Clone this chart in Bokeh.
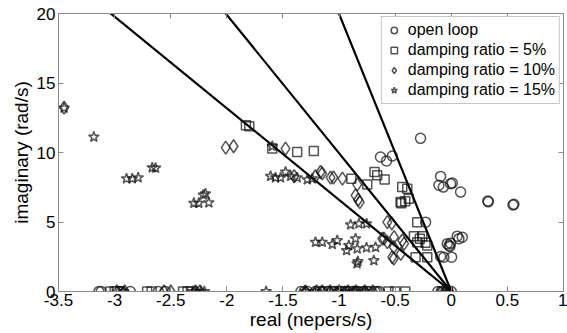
from bokeh.plotting import figure
from bokeh.models import FixedTicker, LinearAxis, Legend, LegendItem, Range1d
from bokeh.embed import file_html
from bokeh.resources import INLINE

# ---------------- data ----------------
ol_re = [-0.274, -0.631, -0.577, -0.526, -0.095, -0.071, -0.006, 0.009, 0.083, 0.326, 0.558,
         -0.229, 0.098, 0.068, 0.053, -0.006, -0.036, -0.020, -0.012, -0.066, -0.095, 0.003, -0.110,
         0.330, 0.550,
         -3.14, -3.12, -2.96, -2.94, -2.86, -2.61, -2.55, -1.34, -1.31, -1.28, -1.21, -1.17, -1.15,
         -1.10, -1.06, -1.04, -0.98, -0.95, -0.93, -0.88, -0.85, -0.83, -0.78, -0.75, -0.73,
         -0.68, -0.66, -0.64, -0.12, -0.09, -0.07, -0.03, 0.0]
ol_im = [11.02, 9.68, 9.39, 9.75, 8.28, 7.51, 7.75, 7.80, 7.15, 6.51, 6.27,
         4.99, 3.91, 3.80, 3.98, 3.48, 3.44, 3.31, 3.24, 2.47, 2.52, 2.47, 7.64,
         6.45, 6.22,
         0, 0, 0, 0, 0, 0, 0, 0, 0, 0, 0, 0, 0,
         0, 0, 0, 0, 0, 0, 0, 0, 0, 0, 0, 0,
         0, 0, 0, 0, 0, 0, 0, 0]

sq_re = [-1.83, -1.80, -1.595, -1.373, -1.225, -0.891, -0.749, -0.684, -0.660, -0.594,
         -0.437, -0.392, -0.452, -0.378, -0.410, -0.303, -0.333, -0.258, -0.303, -0.214,
         -0.230, -0.318, -0.214, -0.280, -0.445,
         -3.04, -3.00, -2.98, -2.71, -2.67, -2.39, -2.35, -2.32, -1.12, -1.00, -0.90,
         -0.80, -0.56, -0.50, -0.41, -0.08, -0.03]
sq_im = [11.96, 11.89, 10.28, 10.04, 10.11, 8.12, 7.69, 8.60, 8.36, 8.05,
         7.52, 7.40, 6.43, 6.68, 6.50, 4.99, 3.98, 3.98, 3.55, 3.31,
         3.50, 2.47, 2.47, 3.80, 6.35,
         0, 0, 0, 0, 0, 0, 0, 0, 0, 0, 0,
         0, 0, 0, 0, 0, 0]

di_re = [-3.45, -2.01, -1.94, -1.477, -1.165, -1.15, -1.21, -1.076, -1.05, -0.97, -1.40,
         -0.838, -0.853, -0.815, -0.830, -0.570, -0.530, -0.615, -0.570, -0.512, -0.512,
         -0.510, -0.420, -0.450, -0.437, -0.600, -0.526,
         -2.98, -2.91, -2.56, -2.50, -2.28, -2.24, -1.30, -1.20, -1.15, -1.08, -1.00,
         -0.92, -0.85, -0.77, -0.70, -0.06, -0.02]
di_im = [13.23, 10.35, 10.45, 10.28, 8.60, 8.50, 8.29, 8.19, 8.20, 8.12, 8.29,
         7.69, 6.92, 6.43, 6.60, 4.99, 4.90, 3.80, 3.55, 3.19, 2.36,
         3.91, 3.44, 2.71, 3.67, 3.80, 2.47,
         0, 0, 0, 0, 0, 0, 0, 0, 0, 0, 0,
         0, 0, 0, 0, 0, 0]

st_re = [-3.45, -3.185, -2.894, -2.843, -2.79, -2.665, -2.635, -2.294, -2.25, -2.16, -2.19,
         -2.21, -1.595, -1.61, -1.566, -1.521, -1.477, -1.432, -1.373, -1.283, -1.239,
         -0.897, -0.823, -0.755, -1.21, -1.15, -1.06, -1.016, -0.853, -0.913, -0.933,
         -0.838, -0.755, -0.675, -0.69, -0.832, -0.84,
         -2.92, -2.30, -2.27, -2.23, -2.20, -1.65, -1.30, -1.22, -1.02, -0.95, -0.87,
         -0.78, -0.04]
st_im = [13.20, 11.12, 8.12, 8.12, 8.19, 8.91, 8.88, 6.36, 6.36, 6.39, 7.04,
         6.95, 10.45, 8.29, 8.19, 8.19, 8.60, 8.29, 8.19, 8.05, 8.12,
         4.80, 4.88, 4.88, 3.55, 3.55, 3.39, 3.67, 3.80, 3.31, 2.95,
         3.08, 3.15, 3.19, 2.23, 2.16, 2.00,
         0, 0, 0, 0, 0, 0, 0, 0, 0, 0, 0,
         0, 0]

zetas = [0.05, 0.10, 0.15]
line_top = 25.0

x_ticks = [-3.5, -3, -2.5, -2, -1.5, -1, -0.5, 0, 0.5, 1]
x_tick_labels = ["-3.5", "-3", "-2.5", "-2", "-1.5", "-1", "-0.5", "0", "0.5", "1"]
y_ticks = [0, 5, 10, 15, 20]
y_tick_labels = ["0", "5", "10", "15", "20"]

labels = ["open loop", "damping ratio = 5%", "damping ratio = 10%", "damping ratio = 15%"]

# ---------------- figure ----------------
FONT = "Liberation Sans"
AXC = "#8a8a8a"

p = figure(width=567, height=333, output_backend="svg", toolbar_location=None,
           x_range=Range1d(-3.5, 1), y_range=Range1d(0, 20),
           min_border_left=58, min_border_right=4, min_border_top=13, min_border_bottom=42)
p.background_fill_color = "white"
p.border_fill_color = "white"
p.outline_line_color = AXC
p.xgrid.visible = False
p.ygrid.visible = False

for z in zetas:
    slope = z / (1 - z * z) ** 0.5
    p.line([0, -slope * line_top], [0, line_top], line_color="black", line_width=2.2)

mk = dict(fill_color=None, line_color="#111111", line_alpha=0.72, line_width=1.5)
r_ol = p.scatter(ol_re, ol_im, marker="circle", size=10, **mk)
r_sq = p.scatter(sq_re, sq_im, marker="square", size=9, **mk)
r_di = p.scatter(di_re, di_im, marker="diamond", size=13, **mk)
r_st = p.scatter(st_re, st_im, marker="star", size=11, **mk)

def style_axis(ax, show_labels):
    ax.axis_line_color = AXC
    ax.major_tick_line_color = AXC
    ax.minor_tick_line_color = None
    ax.major_tick_in = 5
    ax.major_tick_out = 0
    ax.major_label_text_font = FONT
    ax.major_label_text_font_size = "17px"
    ax.major_label_text_color = "black"
    ax.axis_label_text_font = FONT
    ax.axis_label_text_font_size = "19px"
    ax.axis_label_text_font_style = "normal"
    ax.axis_label_text_color = "black"
    if not show_labels:
        ax.major_label_text_font_size = "0px"
        ax.major_label_text_alpha = 0

xa = p.xaxis[0]
xa.ticker = FixedTicker(ticks=x_ticks)
xa.major_label_overrides = {t: l for t, l in zip(x_ticks, x_tick_labels)}
xa.axis_label = "real (nepers/s)"
xa.axis_label_standoff = 0
xa.major_label_standoff = 2
style_axis(xa, True)

ya = p.yaxis[0]
ya.ticker = FixedTicker(ticks=y_ticks)
ya.major_label_overrides = {t: l for t, l in zip(y_ticks, y_tick_labels)}
ya.axis_label = "imaginary (rad/s)"
ya.axis_label_standoff = 2
ya.major_label_standoff = 3
style_axis(ya, True)

top = LinearAxis(ticker=FixedTicker(ticks=x_ticks))
style_axis(top, False)
top.major_label_standoff = 0
p.add_layout(top, "above")
right = LinearAxis(ticker=FixedTicker(ticks=y_ticks))
style_axis(right, False)
right.major_label_standoff = 0
p.add_layout(right, "right")

legend = Legend(items=[LegendItem(label=labels[0], renderers=[r_ol]),
                       LegendItem(label=labels[1], renderers=[r_sq]),
                       LegendItem(label=labels[2], renderers=[r_di]),
                       LegendItem(label=labels[3], renderers=[r_st])],
                location="top_right")
legend.label_text_font = FONT
legend.label_text_font_size = "16px"
legend.label_text_color = "black"
legend.label_height = 18
legend.label_standoff = 6
legend.glyph_width = 16
legend.glyph_height = 18
legend.spacing = 2
legend.padding = 4
legend.margin = 3
legend.border_line_color = AXC
legend.border_line_width = 1
legend.background_fill_color = "white"
legend.background_fill_alpha = 1
p.add_layout(legend, "center")

open("out.html", "w").write(file_html(p, INLINE))
